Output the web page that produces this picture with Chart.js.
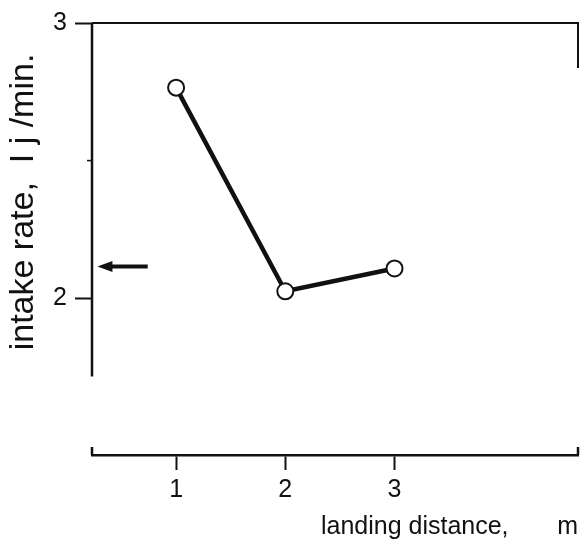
<!DOCTYPE html>
<html>
<head>
<meta charset="utf-8">
<script src="https://cdn.jsdelivr.net/npm/chart.js@4/dist/chart.umd.min.js"></script>
<style>
  html, body { margin: 0; padding: 0; background: #fff; }
  #wrap { width: 588px; height: 556px; }
</style>
</head>
<body>
<div id="wrap"><canvas id="chart_intake"></canvas></div>
<script>
// values
const distances = [1, 2, 3];
const intakeRates = [2.765, 2.025, 2.108];
const xTicks = [1, 2, 3];
const yTicks = [2, 3];
const yMinorTicks = [2.5];
const arrowRate = 2.115;          // level marked by the arrow
const arrowFromTo = [0.74, 0.28]; // arrow tail -> tip, in landing distance units
const yAxisStop = 1.715;          // the drawn y axis ends here

const FONT = "'Liberation Sans', Arial, sans-serif";
const ink = '#111';

// axis lines, arrow and y title are drawn by hand
const extras = {
    id: 'extras',
    afterDatasetsDraw(chart) {
        const {ctx, chartArea} = chart;
        const x = chart.scales.x;
        const y = chart.scales.y;
        ctx.save();
        ctx.strokeStyle = ink;
        ctx.fillStyle = ink;
        ctx.lineCap = 'butt';

        // y axis, stops short of the x axis
        ctx.lineWidth = 2.5;
        ctx.beginPath();
        ctx.moveTo(chartArea.left, y.getPixelForValue(3));
        ctx.lineTo(chartArea.left, y.getPixelForValue(yAxisStop));
        ctx.stroke();

        // top frame line and right corner
        const yTop = y.getPixelForValue(3);
        ctx.lineWidth = 2;
        ctx.beginPath();
        ctx.moveTo(chartArea.left, yTop);
        ctx.lineTo(chartArea.right, yTop);
        ctx.lineTo(chartArea.right, yTop + 45);
        ctx.stroke();

        // minor ticks on y
        ctx.lineWidth = 1.5;
        yMinorTicks.forEach(v => {
            const py = y.getPixelForValue(v);
            ctx.beginPath();
            ctx.moveTo(chartArea.left - 5, py);
            ctx.lineTo(chartArea.left, py);
            ctx.stroke();
        });

        // end caps of the x axis
        ctx.lineWidth = 2.5;
        [chartArea.left, chartArea.right].forEach(px => {
            ctx.beginPath();
            ctx.moveTo(px, chartArea.bottom);
            ctx.lineTo(px, chartArea.bottom - 8);
            ctx.stroke();
        });

        // arrow
        const ay = y.getPixelForValue(arrowRate);
        const ax0 = x.getPixelForValue(arrowFromTo[0]);
        const ax1 = x.getPixelForValue(arrowFromTo[1]);
        ctx.lineWidth = 4;
        ctx.beginPath();
        ctx.moveTo(ax0, ay);
        ctx.lineTo(ax1 + 12, ay);
        ctx.stroke();
        ctx.beginPath();
        ctx.moveTo(ax1, ay);
        ctx.lineTo(ax1 + 15, ay - 5.5);
        ctx.lineTo(ax1 + 15, ay + 5.5);
        ctx.closePath();
        ctx.fill();

        // y title
        ctx.translate(24, 202);
        ctx.rotate(-Math.PI / 2);
        ctx.font = '34px ' + FONT;
        ctx.textAlign = 'center';
        ctx.textBaseline = 'middle';
        ctx.fillText('intake rate,  I j /min.', 0, 0);
        ctx.restore();
    }
};

const ctx = document.getElementById('chart_intake').getContext('2d');
const intakeChart = new Chart(ctx, {
    type: 'line',
    data: {
        datasets: [{
            data: distances.map((d, i) => ({x: d, y: intakeRates[i]})),
            borderColor: ink,
            borderWidth: 4.5,
            pointRadius: 8,
            pointBorderWidth: 2,
            pointBackgroundColor: '#fff',
            pointBorderColor: ink,
            tension: 0
        }]
    },
    options: {
        responsive: true,
        maintainAspectRatio: false,
        animation: false,
        events: [],
        layout: { padding: { top: 20, right: 6, left: 0, bottom: 0 } },
        plugins: { legend: { display: false }, tooltip: { enabled: false } },
        scales: {
            x: {
                type: 'linear',
                min: 0.23,
                max: 4.68,
                afterBuildTicks: s => { s.ticks = xTicks.map(v => ({value: v})); },
                afterFit: s => { s.height = 101; },
                ticks: { color: ink, font: { family: FONT, size: 25 }, padding: 5, maxRotation: 0 },
                grid: { drawOnChartArea: false, tickLength: 15, tickWidth: 2, tickColor: ink },
                border: { display: true, color: ink, width: 2.5 },
                title: {
                    display: true,
                    text: 'landing distance,       m',
                    align: 'end',
                    color: ink,
                    font: { family: FONT, size: 25 },
                    padding: { top: 0, bottom: 14 }
                }
            },
            y: {
                type: 'linear',
                min: 1.43,
                max: 3,
                afterBuildTicks: s => { s.ticks = yTicks.map(v => ({value: v})); },
                afterFit: s => { s.width = 92; },
                ticks: { color: ink, font: { family: FONT, size: 25 }, padding: 8 },
                grid: { drawOnChartArea: false, tickLength: 17, tickWidth: 2, tickColor: ink },
                border: { display: false }
            }
        }
    },
    plugins: [extras]
});
</script>
</body>
</html>
